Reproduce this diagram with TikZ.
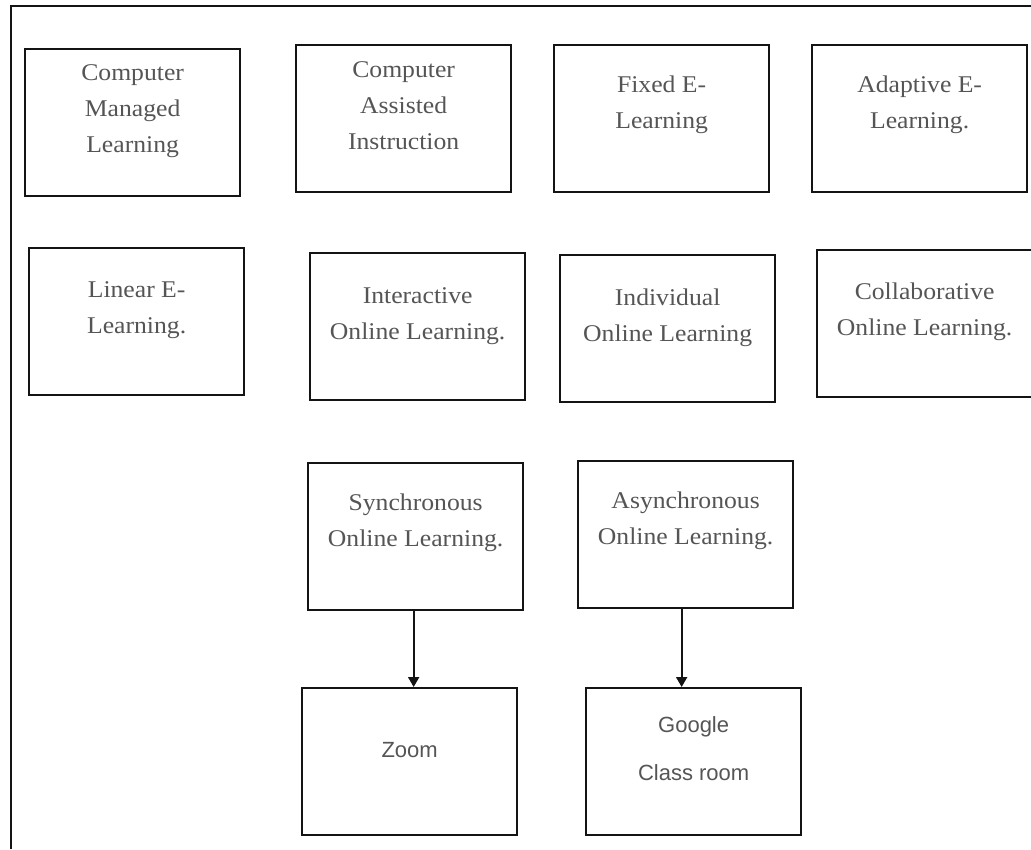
\documentclass[tikz,border=0pt]{standalone}
\usepackage{fontspec}
\setmainfont[FakeStretch=1.07]{Liberation Serif}
\newfontfamily\arialfont{Liberation Sans}
\usepackage{xcolor}
\usepackage{tikz}
\usetikzlibrary{positioning, arrows.meta, calc}
\definecolor{txtgray}{RGB}{85,85,85}
\definecolor{boxline}{RGB}{20,20,20}

\begin{document}
\begin{tikzpicture}[
        x=1pt, y=-1pt,
        box/.style={draw=boxline, rectangle, line width=2.3pt, minimum width=215pt, minimum height=147pt, inner sep=0pt, anchor=north west},
        txt/.style={align=center, text=txtgray, font=\fontsize{24}{36}\selectfont, inner sep=0pt},
        sanstxt/.style={align=center, text=txtgray, font=\arialfont\fontsize{22}{48}\selectfont, inner sep=0pt},
        arr/.style={-{Triangle[width=11pt, length=10pt]}, line width=2pt, draw=boxline}
    ]
    \useasboundingbox (0,0) rectangle (1031,849);
    \draw[line width=2.3pt, draw=boxline] (11,849) -- (11,6) -- (1031,6);

    % Row 1
    \node[box] (cml) at (24,48) {};
    \node[box] (cai) at (295,44) {};
    \node[box] (fix) at (553,44) {};
    \node[box] (ada) at (811,44) {};
    \node[txt] (cmltxt) at ([yshift=12pt]cml.center) {Computer\\Managed\\Learning};
    \node[txt] (caitxt) at ([yshift=13pt]cai.center) {Computer\\Assisted\\Instruction};
    \node[txt] (fixtxt) at ([yshift=14pt]fix.center) {Fixed E-\\Learning};
    \node[txt] (adatxt) at ([yshift=14pt]ada.center) {Adaptive E-\\Learning.};

    % Row 2
    \node[box] (lin) at (28,247) {};
    \node[box] (inter) at (309,252) {};
    \node[box] (indiv) at (559,254) {};
    \node[box] (coll) at (816,249) {};
    \node[txt] (lintxt) at ([yshift=12pt]lin.center) {Linear E-\\Learning.};
    \node[txt] (intertxt) at ([yshift=11pt]inter.center) {Interactive\\Online Learning.};
    \node[txt] (indivtxt) at ([yshift=11pt]indiv.center) {Individual\\Online Learning};
    \node[txt] (colltxt) at ([yshift=12pt]coll.center) {Collaborative\\Online Learning.};

    % Row 3
    \node[box] (sync) at (307,462) {};
    \node[box] (async) at (577,460) {};
    \node[txt] (synctxt) at ([yshift=14pt]sync.center) {Synchronous\\Online Learning.};
    \node[txt] (asynctxt) at ([yshift=14pt]async.center) {Asynchronous\\Online Learning.};

    % Tools
    \node[box] (zm) at (301,687) {};
    \node[box] (goog) at (585,687) {};
    \node[sanstxt] (zmtxt) at ([yshift=12pt]zm.center) {Zoom};
    \node[sanstxt] (googtxt) at ([yshift=13pt]goog.center) {Google\\Class room};

    \draw[arr] ([xshift=-2pt]sync.south) -- ([xshift=-2pt]sync.south |- zm.north);
    \draw[arr] ([xshift=-4pt]async.south) -- ([xshift=-4pt]async.south |- goog.north);

    \end{tikzpicture}
\end{document}
